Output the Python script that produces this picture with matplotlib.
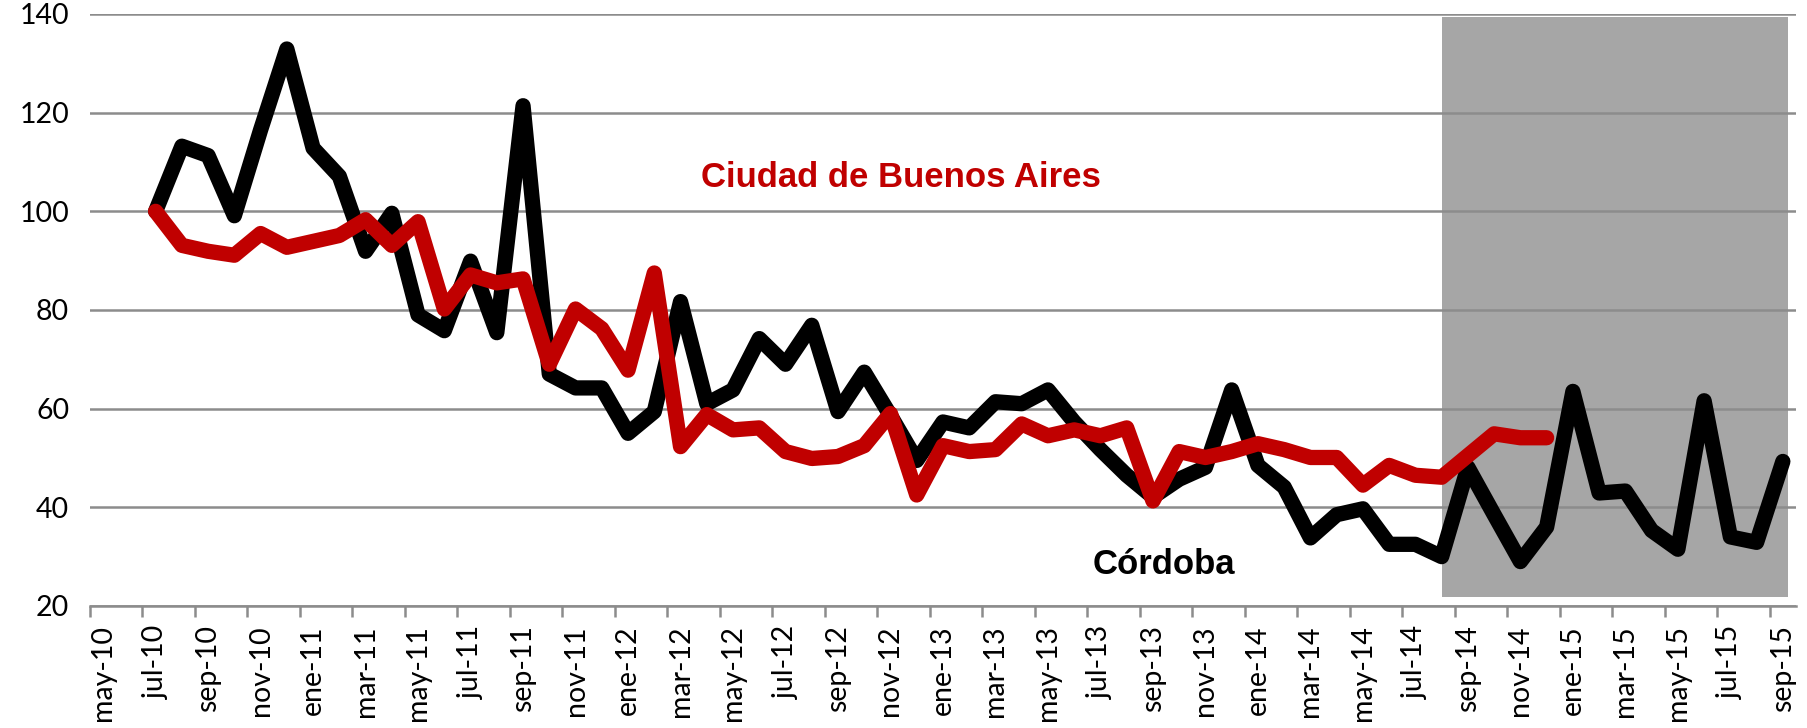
import numpy as np
import matplotlib
matplotlib.use("Agg")
from matplotlib import pyplot as plt
from matplotlib.patches import Rectangle

# tick labels, one every two months from may-10 to sep-15
month_labels = ["may-10", "jul-10", "sep-10", "nov-10", "ene-11", "mar-11", "may-11",
                "jul-11", "sep-11", "nov-11", "ene-12", "mar-12", "may-12", "jul-12",
                "sep-12", "nov-12", "ene-13", "mar-13", "may-13", "jul-13", "sep-13",
                "nov-13", "ene-14", "mar-14", "may-14", "jul-14", "sep-14", "nov-14",
                "ene-15", "mar-15", "may-15", "jul-15", "sep-15"]
n_months = 65          # may-10 .. sep-15
start_idx = 2          # both series start in jul-10

# Cordoba, jul-10 .. sep-15
cordoba = [100, 113.2, 111.3, 99.1, 116.5, 132.9, 112.8, 107.1, 91.9, 99.6,
           79.0, 75.8, 89.9, 75.4, 121.4, 67.0, 64.2, 64.2, 55.0, 59.4,
           81.7, 61.0, 63.8, 74.2, 69.0, 76.9, 59.4, 67.4, 58.6, 49.5,
           57.3, 56.1, 61.4, 61.0, 63.8, 57.3, 51.7, 46.5, 42.1, 45.7,
           48.1, 63.8, 48.5, 44.1, 33.8, 38.5, 39.7, 32.5, 32.5, 30.0,
           48.1, 38.5, 29.0, 36.0, 63.5, 42.9, 43.3, 35.3, 31.5, 61.6,
           34.0, 32.9, 49.3]

# Ciudad de Buenos Aires, jul-10 .. dic-14
caba = [100, 93.1, 91.9, 91.1, 95.5, 92.7, 93.9, 95.1, 98.3, 93.1,
        97.9, 80.2, 87.1, 85.5, 86.3, 69.0, 80.2, 76.2, 67.8, 87.5,
        52.3, 58.8, 55.7, 56.1, 51.3, 49.9, 50.3, 52.5, 59.0, 42.5,
        52.5, 51.3, 51.7, 56.9, 54.5, 55.7, 54.5, 56.1, 41.3, 51.3,
        50.1, 51.3, 52.9, 51.7, 50.1, 50.1, 44.5, 48.5, 46.5, 46.1,
        50.5, 54.9, 54.1, 54.1]

# shaded period (aug-14 onwards)
shade_x = (51, 64.2)
shade_y = (21.8, 139.3)

grid_col = "#8c8c8c"

fig = plt.figure(figsize=(18.07, 7.28), dpi=100)
ax = fig.add_axes([0.0498, 0.1676, 0.9441, 0.8132])

x_cba = np.arange(start_idx, start_idx + len(cordoba))
x_caba = np.arange(start_idx, start_idx + len(caba))

ax.add_patch(Rectangle((shade_x[0], shade_y[0]), shade_x[1] - shade_x[0],
                       shade_y[1] - shade_y[0], facecolor="#a6a6a6",
                       edgecolor="none", zorder=0.2))

ax.plot(x_cba, cordoba, color="black", lw=11, solid_capstyle="round",
        solid_joinstyle="round", zorder=3)
ax.plot(x_caba, caba, color="#c00000", lw=11, solid_capstyle="round",
        solid_joinstyle="round", zorder=4)

ax.text(30.4, 105, "Ciudad de Buenos Aires", color="#c00000", fontsize=25,
        fontweight="bold", family="Liberation Sans", ha="center", va="baseline")
ax.text(40.4, 26.4, "Córdoba", color="black", fontsize=25,
        fontweight="bold", family="Liberation Sans", ha="center", va="baseline")

ax.set_xlim(-0.5, n_months - 0.5)
ax.set_ylim(20, 140)
ax.set_yticks(np.arange(20, 141, 20))
ax.yaxis.grid(True, color=grid_col, lw=1.8)
ax.set_axisbelow(True)

# tick marks on the category edges, labels in the middle of the category
ax.set_xticks(np.arange(-0.5, n_months - 1, 2))
ax.set_xticklabels([])
ax.set_xticks(np.arange(0, n_months, 2), minor=True)
ax.set_xticklabels(month_labels, minor=True, rotation=90, family="Lato", fontsize=20.5)
ax.tick_params(axis="x", which="major", length=8, width=1.8, color=grid_col, direction="out")
ax.tick_params(axis="x", which="minor", length=0, pad=14)
ax.tick_params(axis="y", length=0, pad=15, labelsize=20.5)
for lab in ax.get_yticklabels():
    lab.set_family("Lato")

for s in ["top", "right", "left"]:
    ax.spines[s].set_visible(False)
ax.spines["bottom"].set_color(grid_col)
ax.spines["bottom"].set_linewidth(1.8)

fig.savefig("out.png", dpi=100)
plt.close()
